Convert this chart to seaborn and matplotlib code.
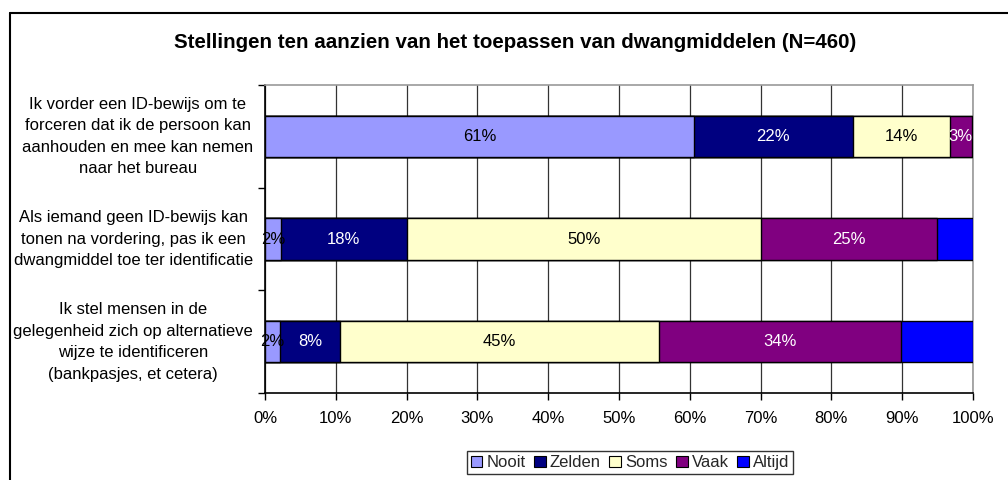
import matplotlib
matplotlib.use("Agg")
import matplotlib.pyplot as plt
import seaborn as sns
import pandas as pd
import numpy as np
from matplotlib.patches import Patch
from matplotlib.lines import Line2D

sns.set_theme(style="white")
plt.rcParams['font.family'] = ['Liberation Sans', 'DejaVu Sans']

title = "Stellingen ten aanzien van het toepassen van dwangmiddelen (N=460)"
categories = [
    "Ik vorder een ID-bewijs om te\nforceren dat ik de persoon kan\naanhouden en mee kan nemen\nnaar het bureau",
    "Als iemand geen ID-bewijs kan\ntonen na vordering, pas ik een\ndwangmiddel toe ter identificatie",
    "Ik stel mensen in de\ngelegenheid zich op alternatieve\nwijze te identificeren\n(bankpasjes, et cetera)",
]
series = ["Nooit", "Zelden", "Soms", "Vaak", "Altijd"]
nooit = [60.6, 2.2, 2.1]
zelden = [22.4, 17.8, 8.5]
soms = [13.7, 50.1, 45.0]
vaak = [3.1, 24.8, 34.2]
altijd = [0.2, 5.1, 10.2]
labels_nooit = ["61%", "2%", "2%"]
labels_zelden = ["22%", "18%", "8%"]
labels_soms = ["14%", "50%", "45%"]
labels_vaak = ["3%", "25%", "34%"]
xticks = [0, 10, 20, 30, 40, 50, 60, 70, 80, 90, 100]

colors = ["#9999FF", "#000080", "#FFFFCC", "#800080", "#0000FF"]
text_colors = ["black", "white", "black", "white", None]

values = np.array([nooit, zelden, soms, vaak, altijd])
labels = [labels_nooit, labels_zelden, labels_soms, labels_vaak, None]
cum = np.cumsum(values, axis=0)
starts = cum - values

FS = 12

fig = plt.figure(figsize=(10.08, 4.8), dpi=100)
W, H = 1008, 480
ax = fig.add_axes([265 / W, 1 - 393 / H, (973 - 265) / W, (393 - 85) / H])

# draw cumulative bars from the last series to the first so they stack visually
for i in range(len(series) - 1, -1, -1):
    df = pd.DataFrame({"cat": categories, "val": cum[i]})
    sns.barplot(data=df, x="val", y="cat", orient="h", color=colors[i],
                edgecolor="black", linewidth=1.0, width=0.4, ax=ax,
                saturation=1, zorder=3)

for i in range(len(series)):
    if labels[i] is None:
        continue
    for j in range(len(categories)):
        xc = starts[i, j] + values[i, j] / 2
        ax.text(xc, j, labels[i][j], ha="center", va="center",
                color=text_colors[i], fontsize=FS, zorder=5)

ax.set_xlim(0, 100)
ax.set_ylim(2.5, -0.5)
ax.set_xticks(xticks)
ax.set_xticklabels([f"{t}%" for t in xticks], fontsize=FS, color="black")
# label positions nudged slightly upward (major ticks are invisible)
ax.set_yticks([j - 0.045 for j in range(len(categories))])
ax.set_yticklabels(categories, fontsize=FS, color="black",
                   multialignment="center", linespacing=1.55)
ax.set_yticks([-0.5, 0.5, 1.5, 2.5], minor=True)
ax.tick_params(axis="y", which="major", length=0, pad=8.5)
ax.tick_params(axis="y", which="minor", length=5, width=1, color="black", direction="out", left=True)
ax.tick_params(axis="x", which="major", length=5, width=1, color="black", direction="out", bottom=True, pad=8)
ax.set_xlabel("")
ax.set_ylabel("")
ax.grid(axis="x", color="#333333", linewidth=0.9, zorder=0)
ax.grid(axis="y", visible=False)
ax.set_axisbelow(True)
for s in ["left", "bottom"]:
    ax.spines[s].set_color("black")
    ax.spines[s].set_linewidth(1.2)
for s in ["top", "right"]:
    ax.spines[s].set_color("#999999")
    ax.spines[s].set_linewidth(1.2)
    ax.spines[s].set_visible(True)

fig.text(515 / W, 1 - 43 / H, title, ha="center", va="center",
         fontsize=14.8, fontweight="bold", color="black")

handles = [Patch(facecolor=c, edgecolor="black", linewidth=0.8) for c in colors]
leg = fig.legend(handles, series, loc="upper center", bbox_to_anchor=(630 / W, 1 - 451 / H),
                 ncol=5, frameon=True, fontsize=FS, handlelength=0.7, handleheight=0.7,
                 handletextpad=0.25, columnspacing=0.5, borderpad=0.25, fancybox=False,
                 borderaxespad=0)
leg.get_frame().set_edgecolor("black")
leg.get_frame().set_linewidth(1.0)

# outer chart frame (left and top edges visible)
fig.add_artist(Line2D([10 / W, 10 / W], [0, 1 - 13 / H], transform=fig.transFigure, color="black", linewidth=1.5))
fig.add_artist(Line2D([10 / W, 1], [1 - 13 / H, 1 - 13 / H], transform=fig.transFigure, color="black", linewidth=1.5))

fig.savefig("out.png", dpi=100)
